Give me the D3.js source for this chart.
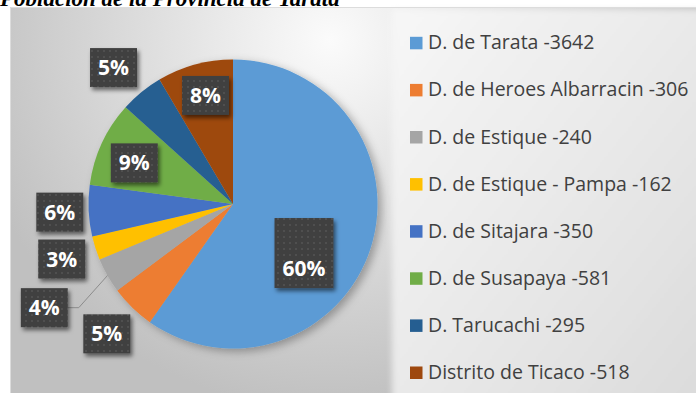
<!DOCTYPE html>
<html>
<head>
<meta charset="utf-8">
<script src="https://cdn.jsdelivr.net/npm/d3@7"></script>
<style>
  html, body { margin: 0; padding: 0; background: #ffffff; }
  svg { display: block; }
</style>
</head>
<body>
<svg id="chart" width="696" height="393"></svg>
<script>
// Population by district, Provincia de Tarata
const districts = [
  "D. de Tarata",
  "D. de Heroes Albarracin",
  "D. de Estique",
  "D. de Estique - Pampa",
  "D. de Sitajara",
  "D. de Susapaya",
  "D. Tarucachi",
  "Distrito de Ticaco"
];
const population = [3642, 306, 240, 162, 350, 581, 295, 518];
const chartTitle = "Población de la Provincia de Tarata";

// Office palette for the slices
const sliceColors = ["#5b9bd5", "#ed7d31", "#a5a5a5", "#ffc000", "#4472c4", "#70ad47", "#255e91", "#9e480e"];

// Where each percentage callout sits: distance from centre (in radii),
// angular nudge from the slice's mid-angle (degrees), extra box height above the text
const calloutLayout = [
  { dist: 0.664, turn: 24.7, lift: 31 },
  { dist: 1.253, turn: 0, lift: 0 },
  { dist: 1.49, turn: 0.9, lift: 0, leader: true },
  { dist: 1.245, turn: 0, lift: 0 },
  { dist: 1.20, turn: 0, lift: 0 },
  { dist: 0.74, turn: -2.2, lift: 0 },
  { dist: 1.255, turn: -1.9, lift: 0 },
  { dist: 0.775, turn: 1.1, lift: 0 }
];

const W = 696, H = 393;
const svg = d3.select("#chart");
const defs = svg.append("defs");

// background gradients
const bg = defs.append("radialGradient").attr("id", "bgGrad")
  .attr("gradientUnits", "userSpaceOnUse")
  .attr("cx", 330).attr("cy", 40).attr("r", 370);
bg.append("stop").attr("offset", 0).attr("stop-color", "#fbfbfb");
bg.append("stop").attr("offset", 1).attr("stop-color", "#c0c0c0");

const lg = defs.append("linearGradient").attr("id", "legGrad")
  .attr("x1", 0).attr("y1", 0).attr("x2", 1).attr("y2", 1);
lg.append("stop").attr("offset", 0).attr("stop-color", "#f7f7f7");
lg.append("stop").attr("offset", 1).attr("stop-color", "#dbdbdb");

const soft = defs.append("filter").attr("id", "softEdge")
  .attr("x", "-10%").attr("y", "-10%").attr("width", "120%").attr("height", "120%");
soft.append("feGaussianBlur").attr("stdDeviation", 3);

// pie drop shadow
const pieShadow = defs.append("filter").attr("id", "pieShadow")
  .attr("x", "-20%").attr("y", "-20%").attr("width", "140%").attr("height", "140%");
pieShadow.append("feDropShadow").attr("dx", 4).attr("dy", 3)
  .attr("stdDeviation", 4).attr("flood-color", "#000").attr("flood-opacity", 0.3);

// callout shadow
const boxShadow = defs.append("filter").attr("id", "boxShadow")
  .attr("x", "-30%").attr("y", "-30%").attr("width", "160%").attr("height", "160%");
boxShadow.append("feDropShadow").attr("dx", 2).attr("dy", 3)
  .attr("stdDeviation", 2).attr("flood-color", "#000").attr("flood-opacity", 0.55);

// dotted texture for callout boxes
const dots = defs.append("pattern").attr("id", "dots")
  .attr("patternUnits", "userSpaceOnUse").attr("width", 6).attr("height", 6);
dots.append("rect").attr("width", 6).attr("height", 6).attr("fill", "#3f3f3f");
dots.append("rect").attr("x", 2).attr("y", 2).attr("width", 2).attr("height", 2).attr("fill", "#4f4f4f");

// title (runs off the top edge)
svg.append("text")
  .attr("x", 0).attr("y", 6)
  .attr("font-family", "'Liberation Serif', 'Times New Roman', serif")
  .attr("font-style", "italic").attr("font-weight", "bold")
  .attr("font-size", 23).attr("fill", "#000")
  .text(chartTitle);

// chart area
const area = { x: 10, y: 7, w: W - 10, h: H - 7 };
svg.append("rect")
  .attr("x", area.x).attr("y", area.y).attr("width", area.w).attr("height", area.h)
  .attr("fill", "url(#bgGrad)");
svg.append("rect")
  .attr("x", 392).attr("y", area.y + 2).attr("width", W - 392 + 10).attr("height", area.h + 10)
  .attr("fill", "url(#legGrad)").attr("filter", "url(#softEdge)");
svg.append("path")
  .attr("d", `M${area.x + 0.5},${H} V${area.y + 0.5} H${W}`)
  .attr("fill", "none").attr("stroke", "#dcdcdc").attr("stroke-width", 1);

// pie
const cx = 233, cy = 204, R = 144.5;
const pie = d3.pie().sort(null).value(d => d);
const arcs = pie(population);
const arc = d3.arc().innerRadius(0).outerRadius(R);

const pieG = svg.append("g").attr("transform", `translate(${cx},${cy})`);
pieG.append("g").attr("filter", "url(#pieShadow)")
  .selectAll("path").data(arcs).join("path")
  .attr("d", arc)
  .attr("fill", (d, i) => sliceColors[i]);

// percentages rounded by largest remainder so they total 100
const total = d3.sum(population);
const exact = population.map(v => v / total * 100);
const pct = exact.map(Math.floor);
let remaining = 100 - d3.sum(pct);
d3.range(exact.length)
  .sort((a, b) => (exact[b] - pct[b]) - (exact[a] - pct[a]))
  .slice(0, remaining)
  .forEach(i => { pct[i] += 1; });

// callouts
const labelFont = "'Open Sans', 'Noto Sans', sans-serif";
const calloutG = pieG.append("g");
arcs.forEach((d, i) => {
  const lay = calloutLayout[i];
  const mid = (d.startAngle + d.endAngle) / 2;
  const ang = mid + lay.turn * Math.PI / 180;
  const r = lay.dist * R;
  const x = r * Math.sin(ang), y = -r * Math.cos(ang);
  const text = pct[i] + "%";

  const g = calloutG.append("g");
  const t = g.append("text")
    .attr("x", x).attr("y", y).attr("dy", "0.357em")
    .attr("text-anchor", "middle")
    .attr("font-family", labelFont).attr("font-weight", "bold")
    .attr("font-size", 21).attr("fill", "#ffffff")
    .text(text);
  const tw = t.node().getComputedTextLength();
  const bw = tw + 16, bh = 39;

  if (lay.leader) {
    const edge = [R * Math.sin(mid), -R * Math.cos(mid)];
    g.insert("path", "text")
      .attr("d", d3.line()([[x + bw / 2, y], [x + bw / 2 + 11, y], edge]))
      .attr("fill", "none").attr("stroke", "#8c8c8c").attr("stroke-width", 1);
  }
  g.insert("rect", "text")
    .attr("x", x - bw / 2).attr("y", y - bh / 2 - lay.lift)
    .attr("width", bw).attr("height", bh + lay.lift)
    .attr("fill", "url(#dots)").attr("filter", "url(#boxShadow)");
});

// legend
const legend = svg.append("g").attr("transform", "translate(410,0)");
const rowY = d3.scaleLinear().domain([0, districts.length - 1]).range([49.3, 379]);
districts.forEach((name, i) => {
  const yb = rowY(i);
  legend.append("rect")
    .attr("x", 0).attr("y", yb - 12.5).attr("width", 12.5).attr("height", 12.5)
    .attr("fill", sliceColors[i]);
  legend.append("text")
    .attr("x", 18).attr("y", yb)
    .attr("font-family", labelFont).attr("font-size", 19.5)
    .attr("fill", "#404040")
    .text(`${name} -${population[i]}`);
});
</script>
</body>
</html>
